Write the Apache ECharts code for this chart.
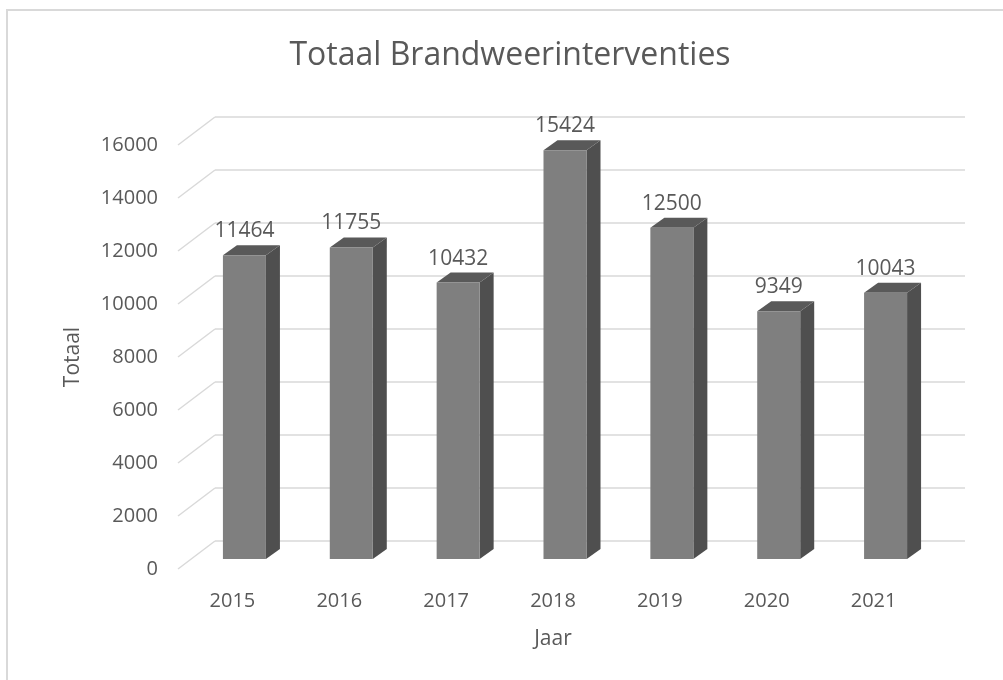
<!DOCTYPE html>
<html>
<head>
<meta charset="utf-8">
<script src="https://cdn.jsdelivr.net/npm/echarts@6/dist/echarts.min.js"></script>
<style>html,body{margin:0;padding:0;background:#fff}#c{width:1003px;height:680px}</style>
</head>
<body>
<div id="c"></div>
<script>
var years = ['2015', '2016', '2017', '2018', '2019', '2020', '2021'];
var totals = [11464, 11755, 10432, 15424, 12500, 9349, 10043];
var yTicks = [0, 2000, 4000, 6000, 8000, 10000, 12000, 14000, 16000];

var FONT = '"Open Sans", sans-serif';
var TXT = '#595959';
var DX = 14, DY = -10, HALF = 21.5;

var chart = echarts.init(document.getElementById('c'));
chart.setOption({
  animation: false,
  graphic: [
    { type: 'rect', shape: { x: 7, y: 10, width: 1010, height: 700 }, style: { fill: 'none', stroke: '#d9d9d9', lineWidth: 2 }, z: -10 },
    { type: 'text', x: 510, y: 56, style: { text: 'Totaal Brandweerinterventies', font: '32px ' + FONT, fill: TXT, textAlign: 'center', textVerticalAlign: 'middle' } }
  ],
  grid: [
    { left: 215, right: 38, top: 117, bottom: 139 },
    { left: 179, right: 76, top: 145, bottom: 111 },
    { left: 191, right: 64, top: 135, bottom: 121 }
  ],
  xAxis: [
    { gridIndex: 0, type: 'category', data: years, show: false },
    { gridIndex: 1, type: 'category', data: years, axisLine: { show: false }, axisTick: { show: false },
      axisLabel: { color: TXT, fontSize: 20, fontFamily: FONT, margin: 22 },
      name: 'Jaar', nameLocation: 'middle', nameGap: 60, nameTextStyle: { color: TXT, fontSize: 21, fontFamily: FONT } },
    { gridIndex: 2, type: 'category', data: years, show: false }
  ],
  yAxis: [
    { gridIndex: 0, type: 'value', min: 0, max: 16000, interval: 2000, axisLabel: { show: false }, axisLine: { show: false }, axisTick: { show: false },
      splitLine: { lineStyle: { color: '#d9d9d9', width: 1.5 } } },
    { gridIndex: 1, type: 'value', min: 0, max: 16000, interval: 2000, axisLine: { show: false }, axisTick: { show: false }, splitLine: { show: false },
      axisLabel: { color: TXT, fontSize: 20, fontFamily: FONT, margin: 21, formatter: function (v) { return String(v); } },
      name: 'Totaal', nameLocation: 'middle', nameGap: 95, nameRotate: 90, nameTextStyle: { color: TXT, fontSize: 21, fontFamily: FONT } },
    { gridIndex: 2, type: 'value', min: 0, max: 16000, show: false, splitLine: { show: false } }
  ],
  series: [
    {
      type: 'custom', xAxisIndex: 0, yAxisIndex: 0, silent: true,
      data: yTicks.map(function (v) { return [0, v]; }),
      renderItem: function (params, api) {
        var y = api.coord([0, api.value(1)])[1];
        var x0 = params.coordSys.x;
        return { type: 'line', shape: { x1: x0, y1: y, x2: x0 - 37, y2: y + 28 }, style: { stroke: '#d9d9d9', lineWidth: 1.5 } };
      }
    },
    {
      type: 'custom', xAxisIndex: 2, yAxisIndex: 2, silent: true,
      data: totals.map(function (v, i) { return [i, v]; }),
      renderItem: function (params, api) {
        var top = api.coord([api.value(0), api.value(1)]);
        var bot = api.coord([api.value(0), 0]);
        var cx = top[0], yt = top[1], yb = bot[1];
        var xl = cx - HALF, xr = cx + HALF;
        return {
          type: 'group',
          children: [
            { type: 'polygon', shape: { points: [[xr, yt], [xr + DX, yt + DY], [xr + DX, yb + DY], [xr, yb]] }, style: { fill: '#4f4f4f' } },
            { type: 'polygon', shape: { points: [[xl, yt], [xl + DX, yt + DY], [xr + DX, yt + DY], [xr, yt]] }, style: { fill: '#595959' } },
            { type: 'rect', shape: { x: xl, y: yt, width: xr - xl, height: yb - yt }, style: { fill: '#7f7f7f' } },
            { type: 'text', x: cx, y: yt - 24, style: { text: String(api.value(1)), font: '21px ' + FONT, fill: TXT, textAlign: 'center', textVerticalAlign: 'middle' } }
          ]
        };
      }
    }
  ]
});
</script>
</body>
</html>
